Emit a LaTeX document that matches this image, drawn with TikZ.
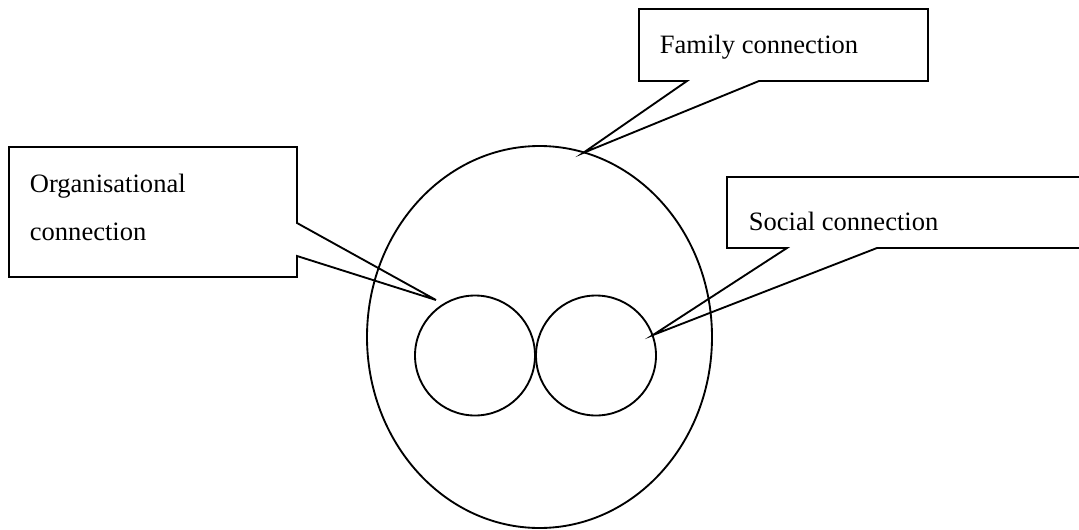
\documentclass[tikz,border=0pt]{standalone}
\usepackage{fontspec}
\setmainfont{Liberation Serif}
\usetikzlibrary{shapes.geometric}
\begin{document}
\begin{tikzpicture}[x=0.75pt,y=-0.75pt,line width=1.4pt,
  boxtext/.style={anchor=base west,inner sep=0pt,font=\fontsize{19.9}{24}\selectfont},
  ring/.style={draw,circle,inner sep=0pt,minimum size=90pt},
  callout/.style={draw,line join=miter}]
  \clip (0,0) rectangle (1079,529);

  % outer ring and the two inner circles
  \node[draw,ellipse,inner sep=0pt,minimum width=258.75pt,minimum height=286.5pt] (outer) at (539.5,337) {};
  \node[ring] (left) at (475,355.5) {};
  \node[ring] (right) at (596,355.5) {};

  % pointer tips
  \coordinate (famtip) at (583,153);
  \coordinate (orgtip) at (436,300);
  \coordinate (soctip) at (653,335);

  % family callout
  \draw[callout] (687,81) -- (639,81) -- (639,9) -- (928,9) -- (928,81) -- (759,81) -- (famtip) -- cycle;
  \node[boxtext] (famtext) at (659,53) {Family connection};

  % organisational callout
  \draw[callout] (297,223) -- (297,147) -- (9,147) -- (9,277) -- (297,277) -- (297,256) -- (orgtip) -- cycle;
  \node[boxtext] (orgtext1) at (29,192) {Organisational};
  \node[boxtext] (orgtext2) at (29,240) {connection};

  % social callout
  \draw[callout] (787,248) -- (727,248) -- (727,177) -- (1095,177) -- (1095,248) -- (877,248) -- (soctip) -- cycle;
  \node[boxtext] (soctext) at (748,230) {Social connection};
\end{tikzpicture}
\end{document}
